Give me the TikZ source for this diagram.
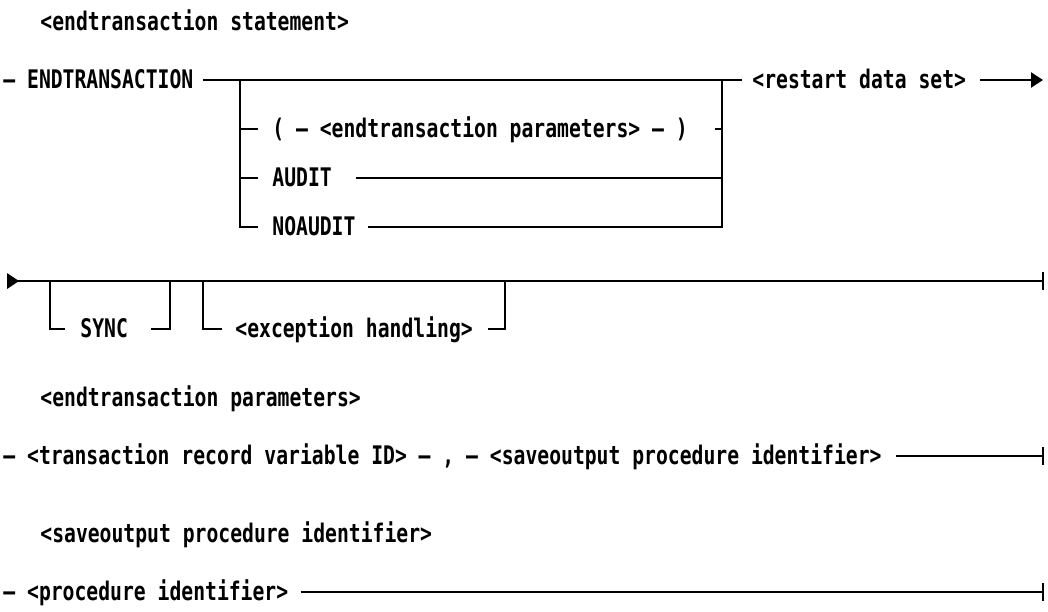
\documentclass[tikz,border=0pt]{standalone}
\usepackage{fontspec}
\newfontfamily\rr{DejaVu Sans Mono}[FakeStretch=0.77]
\usetikzlibrary{arrows.meta,calc}
\begin{document}
\begin{tikzpicture}[x=0.5pt,y=-0.5pt,
  rail/.style={line width=1.25pt},
  endbar/.style={line width=1.4pt},
  lbl/.style={font=\rr\bfseries\fontsize{12.8pt}{15pt}\selectfont,
    inner sep=0pt, anchor=west, text height=9.3pt, text depth=1pt}]
\useasboundingbox (0,0) rectangle (1048,611);

% ---- <endtransaction statement> ----
\node[lbl] (t1) at (40,22) {<endtransaction statement>};

\node[lbl] (e1) at (3,80) {– ENDTRANSACTION};
\node[lbl] (rs) at (752,80) {<restart data set>};
\coordinate (bL) at (240,80);
\coordinate (bR) at (722,80);
\coordinate (r1end) at (1043,80);
\draw[rail] ($(e1.east)+(9,0)$) -- ($(rs.west)+(-10,0)$);
\draw[rail,-{Triangle[length=6pt,width=7.5pt]}] ($(rs.east)+(14,0)$) -- (r1end);

% optional choices
\node[lbl] (pa) at (272,129) {( – <endtransaction parameters> – )};
\node[lbl] (au) at (272,178) {AUDIT};
\node[lbl] (na) at (272,227) {NOAUDIT};
\draw[rail] (bL) -- (bL|-na) -- ($(na.west)+(-14,0)$);
\draw[rail] (bL|-pa) -- ($(pa.west)+(-14,0)$);
\draw[rail] (bL|-au) -- ($(au.west)+(-14,0)$);
\draw[rail] ($(pa.east)+(27,0)$) -- (bR|-pa);
\draw[rail] ($(au.east)+(24,0)$) -- (bR|-au);
\draw[rail] ($(na.east)+(12,0)$) -- (bR|-na) -- (bR);

% continuation line
\coordinate (r2s) at (8,281);
\coordinate (r2e) at (1043,281);
\fill (r2s) ++(-1,-8) -- ++(12,8) -- ++(-12,8) -- cycle;
\draw[rail] (r2s) -- (r2e);
\draw[endbar] ($(r2e)+(0,-9)$) -- ($(r2e)+(0,9)$);

\node[lbl] (sy) at (80,329) {SYNC};
\node[lbl] (ex) at (235,329) {<exception handling>};
\coordinate (s1L) at (50,281);
\coordinate (s1R) at (170,281);
\coordinate (s2L) at (203,281);
\coordinate (s2R) at (505,281);
\draw[rail] (s1L) |- ($(sy.west)+(-15,0)$);
\draw[rail] ($(sy.east)+(23,0)$) -| (s1R);
\draw[rail] (s2L) |- ($(ex.west)+(-13,0)$);
\draw[rail] ($(ex.east)+(15,0)$) -| (s2R);

% ---- <endtransaction parameters> ----
\node[lbl] (t2) at (40,398) {<endtransaction parameters>};
\node[lbl] (tr) at (3,456) {– <transaction record variable ID> – , – <saveoutput procedure identifier>};
\coordinate (r3e) at (1043,456);
\draw[rail] ($(tr.east)+(14,0)$) -- (r3e);
\draw[endbar] ($(r3e)+(0,-9)$) -- ($(r3e)+(0,9)$);

% ---- <saveoutput procedure identifier> ----
\node[lbl] (t3) at (40,534) {<saveoutput procedure identifier>};
\node[lbl] (pi) at (3,592) {– <procedure identifier>};
\coordinate (r4e) at (1043,592);
\draw[rail] ($(pi.east)+(12,0)$) -- (r4e);
\draw[endbar] ($(r4e)+(0,-9)$) -- ($(r4e)+(0,9)$);
\end{tikzpicture}
\end{document}
